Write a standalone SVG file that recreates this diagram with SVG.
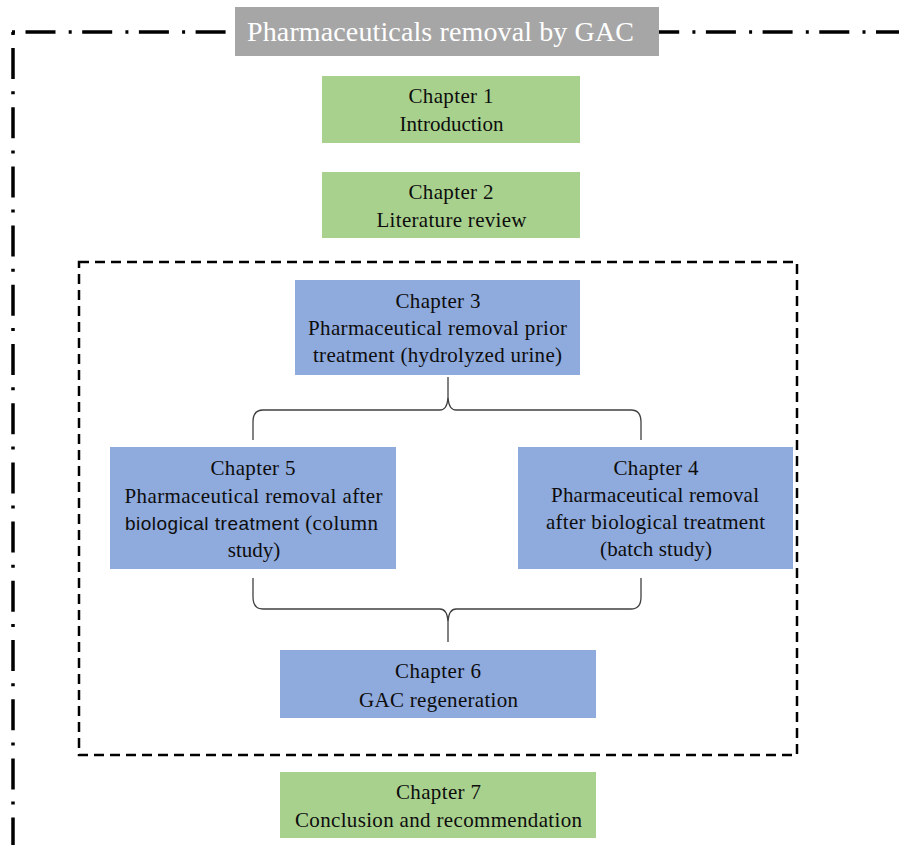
<svg xmlns="http://www.w3.org/2000/svg" width="899" height="845" viewBox="0 0 899 845">
<style>
  .green { fill: #a9d18e; }
  .blue { fill: #8faadc; }
  .lbl { font-family: "Liberation Serif", "Times New Roman", serif; font-size: 21px; fill: #0d0d0d; text-anchor: middle; }
  .sans { font-family: "Liberation Sans", Arial, sans-serif; font-size: 19px; }
  .title { font-family: "Liberation Serif", "Times New Roman", serif; font-size: 28px; fill: #ffffff; }
  .brace { fill: none; stroke: #404040; stroke-width: 1.3; }
  .frame { fill: none; stroke: #000; stroke-width: 3.5; }
</style>
<rect width="899" height="845" fill="#ffffff"/>

<g id="outer-frame">
  <line class="frame" x1="12" y1="32" x2="899" y2="32" stroke-dasharray="3 10.5 30 13.2"/>
  <line class="frame" x1="13" y1="32" x2="13" y2="845" stroke-dasharray="3 13 31 12.2"/>
</g>

<g id="title">
  <rect x="235" y="7" width="424" height="49" fill="#a6a6a6"/>
  <text class="title" x="247" y="41" textLength="387" lengthAdjust="spacing">Pharmaceuticals removal by GAC</text>
</g>

<g id="inner-frame">
  <rect x="79" y="262" width="718" height="493" fill="none" stroke="#000" stroke-width="2.5" stroke-dasharray="10 6"/>
</g>

<g id="connectors">
  <path class="brace" d="M253,440 L253,422 Q253,410 263,410 L440,410 Q447,410 448,398 L448,377"/>
  <path class="brace" d="M641,440 L641,422 Q641,410 631,410 L456,410 Q449,410 448,398"/>
  <path class="brace" d="M253,578 L253,597 Q253,609 263,609 L440,609 Q447,609 448,621 L448,642"/>
  <path class="brace" d="M641,578 L641,597 Q641,609 631,609 L456,609 Q449,609 448,621"/>
</g>

<g id="chapter1">
  <rect class="green" x="322" y="76" width="258" height="67"/>
  <text class="lbl" x="451" y="103" textLength="85" lengthAdjust="spacing">Chapter 1</text>
  <text class="lbl" x="451.5" y="131">Introduction</text>
</g>

<g id="chapter2">
  <rect class="green" x="322" y="172" width="258" height="66"/>
  <text class="lbl" x="451" y="199" textLength="85" lengthAdjust="spacing">Chapter 2</text>
  <text class="lbl" x="451.5" y="227" textLength="150" lengthAdjust="spacing">Literature review</text>
</g>

<g id="chapter3">
  <rect class="blue" x="295" y="280" width="285" height="95"/>
  <text class="lbl" x="438" y="308" textLength="85" lengthAdjust="spacing">Chapter 3</text>
  <text class="lbl" x="437.5" y="335" textLength="259" lengthAdjust="spacing">Pharmaceutical removal prior</text>
  <text class="lbl" x="437.5" y="362" textLength="249" lengthAdjust="spacing">treatment (hydrolyzed urine)</text>
</g>

<g id="chapter5">
  <rect class="blue" x="110" y="447" width="286" height="122"/>
  <text class="lbl" x="253" y="475" textLength="85" lengthAdjust="spacing">Chapter 5</text>
  <text class="lbl" x="253.5" y="503" textLength="258" lengthAdjust="spacing">Pharmaceutical removal after</text>
  <text class="lbl" x="251.5" y="530" textLength="253" lengthAdjust="spacing"><tspan class="sans">biological treatment</tspan> (column</text>
  <text class="lbl" x="254" y="557">study)</text>
</g>

<g id="chapter4">
  <rect class="blue" x="518" y="447" width="275" height="122"/>
  <text class="lbl" x="656" y="475" textLength="85" lengthAdjust="spacing">Chapter 4</text>
  <text class="lbl" x="655" y="502" textLength="208" lengthAdjust="spacing">Pharmaceutical removal</text>
  <text class="lbl" x="655.5" y="529" textLength="219" lengthAdjust="spacing">after biological treatment</text>
  <text class="lbl" x="656" y="556" textLength="112" lengthAdjust="spacing">(batch study)</text>
</g>

<g id="chapter6">
  <rect class="blue" x="280" y="650" width="316" height="68"/>
  <text class="lbl" x="438" y="678" textLength="86" lengthAdjust="spacing">Chapter 6</text>
  <text class="lbl" x="438.5" y="707" textLength="159" lengthAdjust="spacing">GAC regeneration</text>
</g>

<g id="chapter7">
  <rect class="green" x="280" y="772" width="316" height="66"/>
  <text class="lbl" x="438.5" y="799" textLength="85" lengthAdjust="spacing">Chapter 7</text>
  <text class="lbl" x="438.5" y="827" textLength="287" lengthAdjust="spacing">Conclusion and recommendation</text>
</g>
</svg>
